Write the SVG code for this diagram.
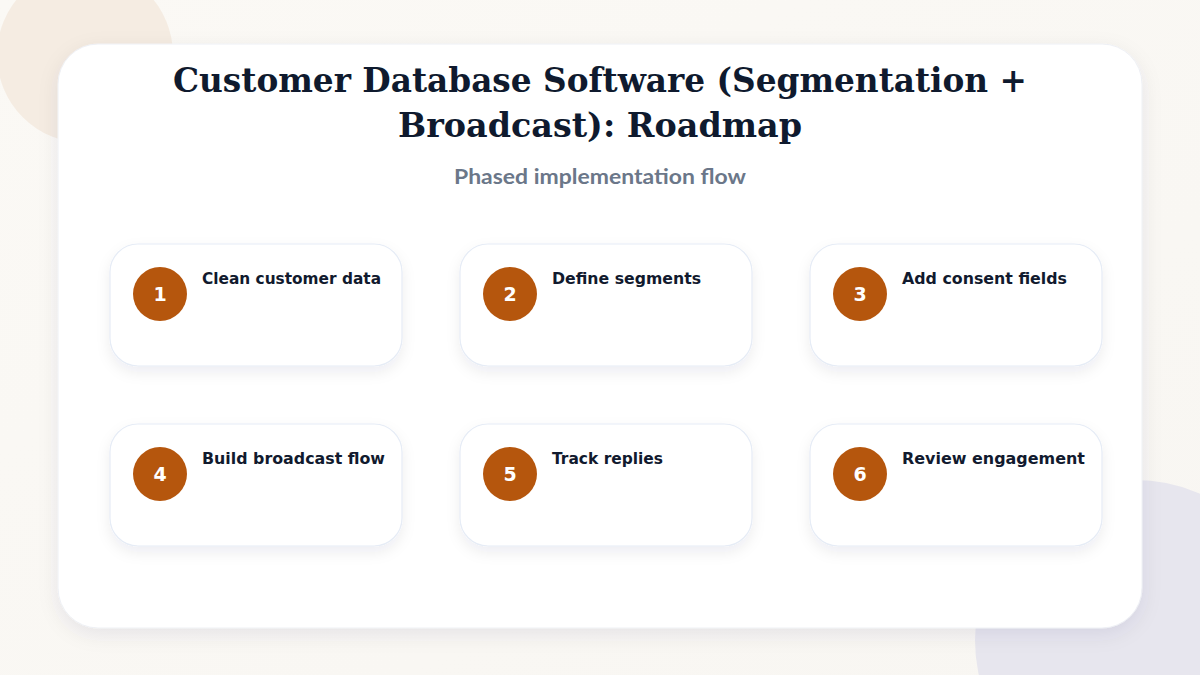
<svg xmlns="http://www.w3.org/2000/svg" width="1200" height="675" viewBox="0 0 1200 675">
<defs>
<linearGradient id="bg" x1="0" y1="0" x2="1" y2="1"><stop offset="0" stop-color="#fbf9f5"/><stop offset="1" stop-color="#f8f6f2"/></linearGradient>
<filter id="sh" x="-10%" y="-10%" width="120%" height="130%"><feDropShadow dx="0" dy="6" stdDeviation="10" flood-color="#1e2a50" flood-opacity="0.08"/></filter>
<filter id="sh2" x="-10%" y="-20%" width="120%" height="150%"><feDropShadow dx="0" dy="6" stdDeviation="7" flood-color="#1e2a50" flood-opacity="0.07"/></filter>
<style>
.card{fill:#fff;stroke:#e6ecf6;stroke-width:1.2;filter:url(#sh2)}
.num{fill:#b5560d}
.nt{font-family:"DejaVu Sans",sans-serif;font-weight:bold;font-size:19px;fill:#fff;text-anchor:middle}
.lbl{font-family:"DejaVu Sans",sans-serif;font-weight:bold;font-size:16px;fill:#111a2e}
.title{font-family:"DejaVu Serif",serif;font-weight:bold;font-size:34px;fill:#0f1a2e;text-anchor:middle}
.sub{font-family:"Lato","Inter",sans-serif;font-weight:bold;font-size:20px;fill:#6b7789;text-anchor:middle}
</style>
</defs>
<rect width="1200" height="675" fill="url(#bg)"/>
<circle cx="85" cy="55" r="88" fill="#f5ece2"/>
<circle cx="1135" cy="640" r="160" fill="#e7e6ee"/>
<rect x="58" y="44" width="1084" height="584" rx="40" fill="#fff" stroke="#eef0f5" filter="url(#sh)"/>
<text class="title" x="600" y="92" textLength="854" lengthAdjust="spacingAndGlyphs">Customer Database Software (Segmentation +</text>
<text class="title" x="600" y="137" textLength="404" lengthAdjust="spacingAndGlyphs">Broadcast): Roadmap</text>
<text class="sub" x="600" y="184" textLength="292" lengthAdjust="spacingAndGlyphs">Phased implementation flow</text>
<g id="connectors"></g>
<g id="n1"><rect class="card" x="110" y="244" width="292" height="122" rx="28"/><circle class="num" cx="160" cy="294" r="27"/><text class="nt" x="160" y="301">1</text><text class="lbl" x="202" y="284" textLength="179" lengthAdjust="spacingAndGlyphs">Clean customer data</text></g>
<g id="n2"><rect class="card" x="460" y="244" width="292" height="122" rx="28"/><circle class="num" cx="510" cy="294" r="27"/><text class="nt" x="510" y="301">2</text><text class="lbl" x="552" y="284" textLength="149" lengthAdjust="spacingAndGlyphs">Define segments</text></g>
<g id="n3"><rect class="card" x="810" y="244" width="292" height="122" rx="28"/><circle class="num" cx="860" cy="294" r="27"/><text class="nt" x="860" y="301">3</text><text class="lbl" x="902" y="284" textLength="165" lengthAdjust="spacingAndGlyphs">Add consent fields</text></g>
<g id="n4"><rect class="card" x="110" y="424" width="292" height="122" rx="28"/><circle class="num" cx="160" cy="474" r="27"/><text class="nt" x="160" y="481">4</text><text class="lbl" x="202" y="464" textLength="183" lengthAdjust="spacingAndGlyphs">Build broadcast flow</text></g>
<g id="n5"><rect class="card" x="460" y="424" width="292" height="122" rx="28"/><circle class="num" cx="510" cy="474" r="27"/><text class="nt" x="510" y="481">5</text><text class="lbl" x="552" y="464" textLength="111" lengthAdjust="spacingAndGlyphs">Track replies</text></g>
<g id="n6"><rect class="card" x="810" y="424" width="292" height="122" rx="28"/><circle class="num" cx="860" cy="474" r="27"/><text class="nt" x="860" y="481">6</text><text class="lbl" x="902" y="464" textLength="183" lengthAdjust="spacingAndGlyphs">Review engagement</text></g>
</svg>
